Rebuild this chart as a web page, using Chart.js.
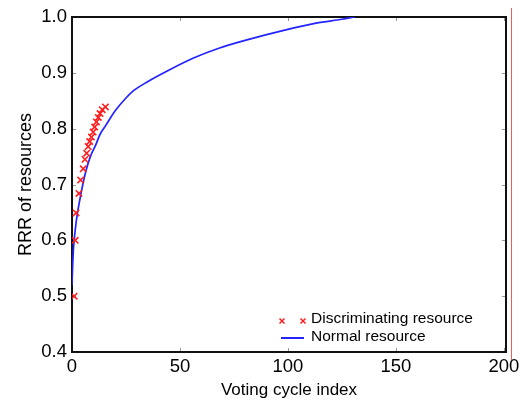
<!DOCTYPE html>
<html><head><meta charset="utf-8">
<script src="https://cdn.jsdelivr.net/npm/chart.js@4/dist/chart.umd.min.js"></script>
<style>html,body{margin:0;padding:0;background:#fff}#wrap{width:519px;height:405px}</style>
</head><body><div id="wrap"><canvas id="c" width="519" height="405"></canvas></div>
<script>
const seriesNames = ['Discriminating resource', 'Normal resource'];
const discX = [1, 1.5, 1.9, 3.2, 4, 5.2, 6, 6.8, 7.5, 8.2, 9, 9.8, 10.5, 11.3, 12.2, 13, 14, 15.5];
const discY = [0.50, 0.60, 0.649, 0.684, 0.708, 0.728, 0.745, 0.756, 0.768, 0.777, 0.785, 0.794, 0.803, 0.812, 0.820, 0.827, 0.834, 0.839];
const normX = [0, 0.3, 0.6, 1, 2, 3.4, 5, 6.5, 8.5, 11, 13, 15.5, 20, 25, 28.5, 35, 45, 56, 68, 81, 99, 113, 125, 131];
const normY = [0.52, 0.555, 0.58, 0.60, 0.635, 0.668, 0.70, 0.725, 0.75, 0.771, 0.79, 0.805, 0.832, 0.855, 0.868, 0.884, 0.905, 0.926, 0.944, 0.959, 0.977, 0.989, 0.996, 1.0];
const xTicks = [0, 50, 100, 150, 200];
const yTicks = [0.4, 0.5, 0.6, 0.7, 0.8, 0.9, 1.0];
const xTitle = 'Voting cycle index';
const yTitle = 'RRR of resources';

const FONT = 'Arial, "Liberation Sans", sans-serif';

const framePlugin = {
  id: 'frame',
  beforeDatasetsDraw(chart) {
    const {ctx, chartArea: a, scales: {x, y}} = chart;
    ctx.save();
    ctx.strokeStyle = '#999';
    ctx.lineWidth = 1;
    ctx.beginPath();
    xTicks.forEach(v => {
      const px = Math.round(x.getPixelForValue(v)) + 0.5;
      ctx.moveTo(px, a.bottom); ctx.lineTo(px, a.bottom - 4);
      ctx.moveTo(px, a.top); ctx.lineTo(px, a.top + 4);
    });
    yTicks.forEach(v => {
      const py = Math.round(y.getPixelForValue(v)) + 0.5;
      ctx.moveTo(a.left, py); ctx.lineTo(a.left + 4, py);
      ctx.moveTo(a.right, py); ctx.lineTo(a.right - 4, py);
    });
    ctx.stroke();
    ctx.strokeStyle = '#111';
    ctx.lineWidth = 2;
    ctx.strokeRect(a.left, a.top, a.right - a.left, a.bottom - a.top);
    ctx.restore();
  },
  afterDraw(chart) {
    const {ctx, chartArea: a} = chart;
    ctx.save();
    ctx.strokeStyle = 'rgba(225,70,70,0.85)';
    ctx.lineWidth = 1;
    ctx.beginPath();
    ctx.moveTo(a.right + 5.5, 8); ctx.lineTo(a.right + 5.5, a.bottom + 8);
    ctx.stroke();
    const ds = chart.data.datasets;
    const tx = a.right - 195;
    const y1 = a.bottom - 33, y2 = a.bottom - 15;
    ctx.font = '15.5px ' + FONT;
    ctx.fillStyle = '#000';
    ctx.textBaseline = 'middle';
    ctx.textAlign = 'left';
    ctx.fillText(ds[0].label, tx, y1);
    ctx.fillText(ds[1].label, tx, y2);
    ctx.strokeStyle = ds[0].borderColor;
    ctx.lineWidth = 1.5;
    [tx - 29, tx - 8].forEach(cx => {
      const cy = y1 + 2, r = 2.5;
      ctx.beginPath();
      ctx.moveTo(cx - r, cy - r); ctx.lineTo(cx + r, cy + r);
      ctx.moveTo(cx - r, cy + r); ctx.lineTo(cx + r, cy - r);
      ctx.stroke();
    });
    ctx.strokeStyle = ds[1].borderColor;
    ctx.lineWidth = 2;
    ctx.beginPath();
    ctx.moveTo(tx - 30, y2 + 1); ctx.lineTo(tx - 7, y2 + 1);
    ctx.stroke();
    ctx.restore();
  }
};

new Chart(document.getElementById('c'), {
  type: 'scatter',
  data: {
    datasets: [
      {
        label: seriesNames[0],
        data: discX.map((v, i) => ({x: v, y: discY[i]})),
        pointStyle: 'crossRot',
        pointRadius: 4.5,
        pointBorderWidth: 1.6,
        borderColor: 'rgb(255,30,30)',
        backgroundColor: 'rgb(255,30,30)',
        showLine: false,
        order: 0
      },
      {
        label: seriesNames[1],
        data: normX.map((v, i) => ({x: v, y: normY[i]})),
        showLine: true,
        pointRadius: 0,
        borderColor: 'rgb(35,35,255)',
        borderWidth: 1.7,
        cubicInterpolationMode: 'monotone',
        order: 1
      }
    ]
  },
  options: {
    responsive: false,
    animation: false,
    devicePixelRatio: 1,
    layout: {padding: {top: 17, right: 13, left: 0, bottom: 0}},
    plugins: {legend: {display: false}, tooltip: {enabled: false}},
    scales: {
      x: {
        type: 'linear', min: 0, max: 201,
        afterBuildTicks: s => { s.ticks = xTicks.map(v => ({value: v})); },
        afterFit: s => { s.height = 53; s.paddingRight = 0; s.paddingLeft = 0; },
        grid: {display: false, drawTicks: false},
        border: {display: false},
        ticks: {font: {family: FONT, size: 18.5}, color: '#000', padding: 4, maxRotation: 0, autoSkip: false,
                callback: v => String(v)},
        title: {display: true, text: xTitle, font: {family: FONT, size: 17}, color: '#000', padding: {top: 0, bottom: 4}}
      },
      y: {
        type: 'linear', min: 0.4, max: 1.0,
        afterBuildTicks: s => { s.ticks = yTicks.map(v => ({value: v})); },
        afterFit: s => { s.width = 72; s.paddingTop = 0; s.paddingBottom = 0; },
        grid: {display: false, drawTicks: false},
        border: {display: false},
        ticks: {font: {family: FONT, size: 18.5}, color: '#000', padding: 5, autoSkip: false,
                callback: v => v.toFixed(1)},
        title: {display: true, text: yTitle, font: {family: FONT, size: 18}, color: '#000', padding: {top: 15, bottom: 0}}
      }
    }
  },
  plugins: [framePlugin]
});
</script>
</body></html>
